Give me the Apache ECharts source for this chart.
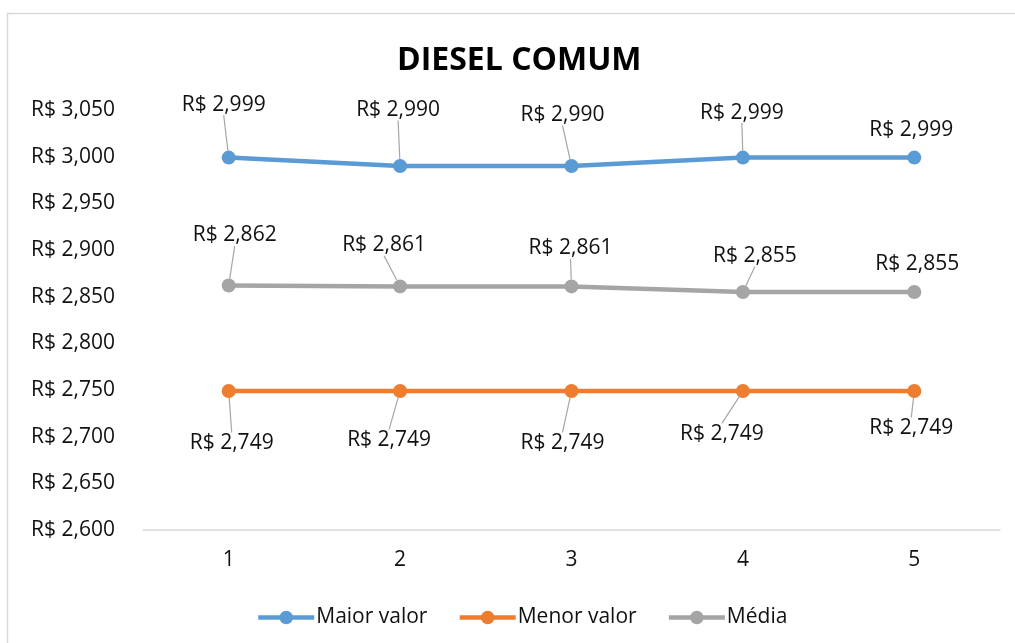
<!DOCTYPE html>
<html>
<head>
<meta charset="utf-8">
<script src="https://cdn.jsdelivr.net/npm/echarts@6/dist/echarts.min.js"></script>
<style>
  html, body { margin: 0; padding: 0; background: #fff; }
  #chart { width: 1015px; height: 643px; }
</style>
</head>
<body>
<div id="chart"></div>
<script>
  // dados do grafico
  var categorias = ['1', '2', '3', '4', '5'];
  var maiorValor = [2.999, 2.990, 2.990, 2.999, 2.999];
  var menorValor = [2.749, 2.749, 2.749, 2.749, 2.749];
  var media = [2.862, 2.861, 2.861, 2.855, 2.855];

  // deslocamento dos rotulos (px), a partir do ponto
  var offMaior = [[-5, -53], [-2, -56], [-9, -51], [-1, -45], [-3, -28]];
  var offMenor = [[3, 52], [-11, 49], [-9, 52], [-21, 43], [-3, 37]];
  var offMedia = [[6, -50], [-16, -41], [-1, -38], [12, -36], [3, -28]];

  var fonte = "'Open Sans', 'Noto Sans', sans-serif";

  function reais(v) {
    return 'R$ ' + Number(v).toFixed(3).replace('.', ',');
  }

  function serie(nome, dados, cor, offs, semLinha) {
    return {
      name: nome,
      type: 'line',
      data: dados.map(function (v, i) {
        var item = { value: v };
        if (semLinha.indexOf(i) >= 0) item.labelLine = { show: false };
        return item;
      }),
      symbol: 'circle',
      symbolSize: 14,
      lineStyle: { color: cor, width: 4.5 },
      itemStyle: { color: cor },
      label: {
        show: true,
        position: 'inside',
        formatter: function (p) { return reais(p.value); },
        fontFamily: fonte,
        fontSize: 21,
        color: '#111'
      },
      labelLine: {
        show: true,
        lineStyle: { color: '#a6a6a6', width: 1.2 }
      },
      labelLayout: function (p) {
        var o = offs[p.dataIndex];
        return { dx: o[0], dy: o[1], hideOverlap: false };
      },
      emphasis: { disabled: true },
      animation: false
    };
  }

  var myChart = echarts.init(document.getElementById('chart'));
  var option = {
    backgroundColor: '#fff',
    title: {
      text: 'DIESEL COMUM',
      left: 392,
      top: 40,
      textStyle: { fontFamily: fonte, fontSize: 32, fontWeight: 'bold', color: '#000' }
    },
    legend: {
      bottom: 10,
      left: 251,
      itemWidth: 56,
      itemHeight: 17,
      itemGap: 30,
      lineStyle: { width: 4.5 },
      textStyle: { fontFamily: fonte, fontSize: 21, color: '#111', padding: [0, 0, 0, -3] },
      data: ['Maior valor', 'Menor valor', 'Média']
    },
    grid: { left: 143, right: 15, top: 110, bottom: 113 },
    xAxis: {
      type: 'category',
      data: categorias,
      boundaryGap: true,
      axisLine: { lineStyle: { color: '#d9d9d9', width: 1.5 } },
      axisTick: { show: false },
      axisLabel: { fontFamily: fonte, fontSize: 21, color: '#111', margin: 20 }
    },
    yAxis: {
      type: 'value',
      min: 2.6,
      max: 3.05,
      interval: 0.05,
      axisLine: { show: false },
      axisTick: { show: false },
      splitLine: { show: false },
      axisLabel: {
        fontFamily: fonte, fontSize: 21, color: '#111', margin: 28,
        formatter: function (v) { return reais(v); }
      }
    },
    graphic: [{
      type: 'rect',
      shape: { x: 7.5, y: 13.5, width: 1020, height: 650 },
      style: { fill: 'none', stroke: '#d9d9d9', lineWidth: 1.5 },
      silent: true
    }],
    series: [
      serie('Maior valor', maiorValor, '#5B9BD5', offMaior, [4]),
      serie('Menor valor', menorValor, '#ED7D31', offMenor, []),
      serie('Média', media, '#A5A5A5', offMedia, [4])
    ]
  };
  myChart.setOption(option);
</script>
</body>
</html>
